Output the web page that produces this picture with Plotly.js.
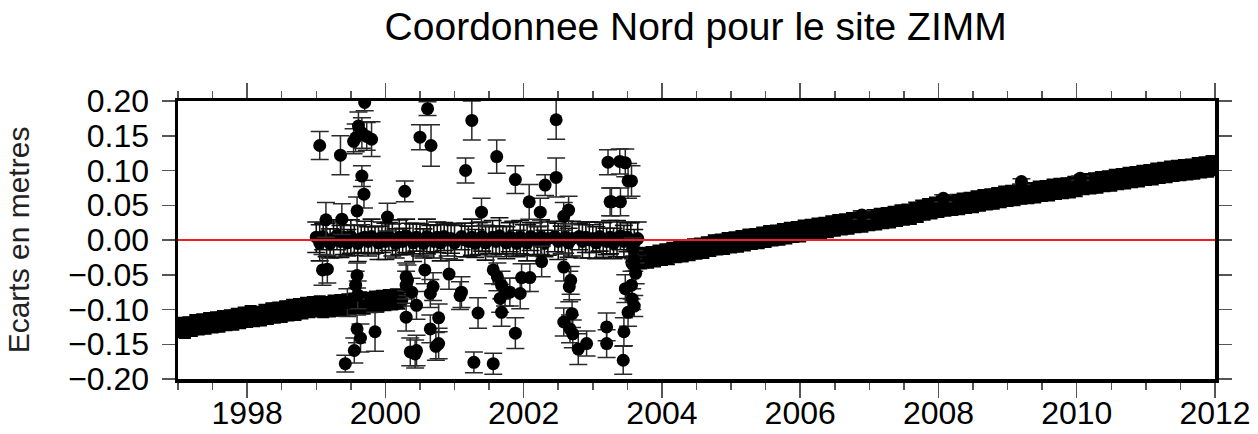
<!DOCTYPE html>
<html>
<head>
<meta charset="utf-8">
<script src="https://cdn.plot.ly/plotly-3.0.1.min.js"></script>
<style>html,body{margin:0;padding:0;background:#fff;}#chart{width:1258px;height:434px;}</style>
</head>
<body>
<div id="chart"></div>
<script>
// ---- Data ----
const titleText = "Coordonnee Nord pour le site ZIMM";
const yTitle = "Ecarts en metres";

// Continuous series before the gap (1997 - 2000.2)
const leftX = [
  1997.00,1997.05,1997.10,1997.15,1997.20,1997.25,1997.30,1997.35,1997.40,1997.45,1997.50,1997.55,1997.60,1997.65,1997.70,1997.75,1997.80,1997.85,1997.90,1997.95,
  1998.00,1998.05,1998.10,1998.15,1998.20,1998.25,1998.30,1998.35,1998.40,1998.45,1998.50,1998.55,1998.60,1998.65,1998.70,1998.75,1998.80,1998.85,1998.90,1998.95,
  1999.00,1999.05,1999.10,1999.15,1999.20,1999.25,1999.30,1999.35,1999.40,1999.45,1999.50,1999.55,1999.60,1999.65,1999.70,1999.75,1999.80,1999.85,1999.90,1999.95,
  2000.00,2000.05,2000.10,2000.15,2000.20];
const leftY = [
  -0.128,-0.124,-0.129,-0.123,-0.126,-0.120,-0.124,-0.119,-0.123,-0.117,-0.121,-0.116,-0.120,-0.114,-0.118,-0.113,-0.117,-0.111,-0.115,-0.109,
  -0.113,-0.107,-0.112,-0.108,-0.111,-0.105,-0.109,-0.103,-0.107,-0.102,-0.106,-0.100,-0.104,-0.098,-0.103,-0.097,-0.101,-0.095,-0.099,-0.094,
  -0.098,-0.093,-0.099,-0.094,-0.098,-0.092,-0.097,-0.091,-0.096,-0.090,-0.095,-0.089,-0.093,-0.087,-0.094,-0.088,-0.092,-0.086,-0.091,-0.085,
  -0.089,-0.084,-0.088,-0.083,-0.087];

// Continuous series after the gap (2003.6 - 2012)
const rightX = [
  2003.60,2003.65,2003.70,2003.75,2003.80,2003.85,2003.90,2003.95,
  2004.00,2004.05,2004.10,2004.15,2004.20,2004.25,2004.30,2004.35,2004.40,2004.45,2004.50,2004.55,2004.60,2004.65,2004.70,2004.75,2004.80,2004.85,2004.90,2004.95,
  2005.00,2005.05,2005.10,2005.15,2005.20,2005.25,2005.30,2005.35,2005.40,2005.45,2005.50,2005.55,2005.60,2005.65,2005.70,2005.75,2005.80,2005.85,2005.90,2005.95,
  2006.00,2006.05,2006.10,2006.15,2006.20,2006.25,2006.30,2006.35,2006.40,2006.45,2006.50,2006.55,2006.60,2006.65,2006.70,2006.75,2006.80,2006.85,2006.90,2006.95,
  2007.00,2007.05,2007.10,2007.15,2007.20,2007.25,2007.30,2007.35,2007.40,2007.45,2007.50,2007.55,2007.60,2007.65,2007.70,2007.75,2007.80,2007.85,2007.90,2007.95,
  2008.00,2008.05,2008.10,2008.15,2008.20,2008.25,2008.30,2008.35,2008.40,2008.45,2008.50,2008.55,2008.60,2008.65,2008.70,2008.75,2008.80,2008.85,2008.90,2008.95,
  2009.00,2009.05,2009.10,2009.15,2009.20,2009.25,2009.30,2009.35,2009.40,2009.45,2009.50,2009.55,2009.60,2009.65,2009.70,2009.75,2009.80,2009.85,2009.90,2009.95,
  2010.00,2010.05,2010.10,2010.15,2010.20,2010.25,2010.30,2010.35,2010.40,2010.45,2010.50,2010.55,2010.60,2010.65,2010.70,2010.75,2010.80,2010.85,2010.90,2010.95,
  2011.00,2011.05,2011.10,2011.15,2011.20,2011.25,2011.30,2011.35,2011.40,2011.45,2011.50,2011.55,2011.60,2011.65,2011.70,2011.75,2011.80,2011.85,2011.90,2011.95,
  2012.00];
const rightY = [
  -0.032,-0.025,-0.029,-0.023,-0.028,-0.022,-0.026,-0.020,
  -0.024,-0.018,-0.023,-0.016,-0.020,-0.015,-0.019,-0.013,-0.017,-0.011,-0.015,-0.010,-0.014,-0.008,-0.011,-0.005,-0.009,-0.004,-0.008,-0.002,
  -0.006,-0.001,-0.005,0.001,-0.003,0.003,-0.001,0.004,0.000,0.006,0.002,0.008,0.004,0.009,0.005,0.011,0.007,0.013,0.009,0.014,
  0.010,0.016,0.012,0.017,0.013,0.019,0.015,0.020,0.016,0.022,0.018,0.024,0.020,0.025,0.021,0.027,0.023,0.028,0.024,0.030,
  0.026,0.031,0.027,0.033,0.029,0.034,0.030,0.036,0.032,0.038,0.034,0.039,0.035,0.042,0.038,0.045,0.041,0.047,0.043,0.049,
  0.045,0.051,0.047,0.052,0.048,0.053,0.049,0.055,0.051,0.056,0.052,0.058,0.054,0.060,0.056,0.061,0.057,0.063,0.059,0.065,
  0.061,0.066,0.062,0.068,0.064,0.069,0.065,0.070,0.066,0.072,0.068,0.073,0.069,0.075,0.071,0.076,0.072,0.077,0.073,0.079,
  0.075,0.081,0.078,0.083,0.079,0.084,0.080,0.086,0.082,0.087,0.083,0.089,0.085,0.090,0.086,0.092,0.088,0.093,0.089,0.095,
  0.091,0.096,0.092,0.098,0.094,0.099,0.095,0.101,0.097,0.102,0.098,0.103,0.099,0.104,0.100,0.106,0.102,0.107,0.103,0.109,
  0.105];
const bandErr = 0.012;

// Row of solutions close to zero (1999 - 2003.65)
const zeroX = [
  1999.00,1999.05,1999.10,1999.15,1999.20,1999.25,1999.30,1999.35,1999.40,1999.45,1999.50,1999.55,1999.60,1999.65,1999.70,1999.75,1999.80,1999.85,1999.90,1999.95,
  2000.00,2000.05,2000.10,2000.15,2000.20,2000.25,2000.30,2000.35,2000.40,2000.45,2000.50,2000.55,2000.60,2000.65,2000.70,2000.75,2000.80,2000.85,2000.90,2000.95,
  2001.00,2001.10,2001.15,2001.20,2001.25,2001.30,2001.35,2001.40,2001.45,2001.50,2001.55,2001.60,2001.65,2001.70,2001.75,2001.80,2001.85,2001.90,2001.95,
  2002.00,2002.05,2002.10,2002.15,2002.20,2002.25,2002.30,2002.35,2002.45,2002.50,2002.55,2002.60,2002.65,2002.70,2002.80,2002.85,2002.90,2002.95,
  2003.00,2003.05,2003.10,2003.15,2003.20,2003.25,2003.30,2003.35,2003.40,2003.45,2003.50,2003.55,2003.60,2003.65];
const zeroY = [
  0.004,-0.004,0.005,0.000,-0.005,0.002,0.006,-0.002,0.004,-0.004,0.005,0.000,-0.005,0.002,0.004,-0.002,0.005,0.000,-0.004,0.004,
  -0.002,0.005,0.000,-0.005,0.004,-0.002,0.006,0.002,-0.004,0.004,0.000,-0.005,0.005,0.002,-0.002,0.004,-0.004,0.005,0.000,0.002,
  -0.004,0.005,0.000,-0.002,0.004,-0.005,0.002,0.005,-0.004,0.000,0.004,-0.002,0.006,0.000,-0.004,0.004,0.002,-0.005,0.004,
  0.000,-0.004,0.005,0.002,-0.002,0.004,-0.005,0.002,0.005,-0.002,0.000,0.004,-0.004,0.002,0.005,-0.002,0.004,0.000,
  0.002,-0.004,0.005,0.000,-0.002,0.004,-0.005,0.002,0.006,-0.002,0.004,0.000,-0.004,0.002];
const zeroErr = [
  0.022,0.026,0.019,0.024,0.021,0.027,0.020,0.023,0.025,0.019,0.024,0.022,0.026,0.020,0.023,0.021,0.025,0.019,0.024,0.022,
  0.026,0.020,0.023,0.021,0.025,0.019,0.024,0.022,0.027,0.020,0.023,0.021,0.025,0.019,0.024,0.022,0.026,0.020,0.023,0.021,
  0.025,0.019,0.024,0.022,0.026,0.020,0.023,0.021,0.025,0.019,0.024,0.022,0.026,0.020,0.023,0.021,0.025,0.019,0.024,
  0.022,0.026,0.020,0.023,0.021,0.025,0.019,0.024,0.022,0.026,0.020,0.023,0.021,0.025,0.019,0.024,0.022,0.026,
  0.020,0.023,0.021,0.025,0.019,0.024,0.022,0.026,0.020,0.023,0.021,0.025,0.019,0.024];

// Scattered outlying solutions
const outX = [1999.05,1999.35,1999.70,1999.61,1999.54,1999.57,1999.66,1999.73,1999.80,1999.66,1999.69,1999.59,1999.14,1999.37,2000.03,2000.28,
  1999.09,1999.16,1999.59,1999.57,1999.60,1999.59,1999.64,1999.85,1999.55,1999.42,1999.45,
  2000.30,2000.30,2000.30,2000.36,2000.61,2000.50,2000.66,2001.25,2001.61,2001.16,2001.88,2001.39,
  2000.57,2000.92,2000.32,2000.38,2000.45,2000.69,2000.65,2001.10,2001.08,2001.34,
  2001.56,2001.62,2001.68,2001.66,2001.68,2001.73,2000.77,2000.65,2000.77,2000.73,2000.45,2000.43,2001.28,2001.56,2001.88,
  2002.47,2002.47,2002.31,2002.08,2002.24,2002.65,2002.58,2003.22,2003.25,2003.39,
  2002.26,2001.97,2002.09,2001.80,2001.95,2002.58,2002.68,2002.66,2002.70,2002.58,2002.67,2002.71,2002.79,2002.91,2003.20,2003.20,
  2003.47,2003.51,2003.56,2003.27,2003.40,2003.47,2003.56,2003.51,2003.45,2003.44,
  2003.58,2003.60,2003.62,2003.57,2003.60,
  2006.89,2008.07,2009.20,2010.05];
const outY = [0.136,0.122,0.198,0.164,0.142,0.147,0.154,0.149,0.145,0.092,0.066,0.042,0.029,0.030,0.033,0.070,
  -0.043,-0.042,-0.051,-0.065,-0.079,-0.128,-0.141,-0.132,-0.159,-0.178,-0.090,
  -0.053,-0.065,-0.111,-0.161,0.189,0.148,0.136,0.172,0.120,0.100,0.087,0.040,
  -0.043,-0.049,-0.058,-0.075,-0.094,-0.067,-0.077,-0.075,-0.080,-0.105,
  -0.043,-0.053,-0.065,-0.084,-0.104,-0.075,-0.112,-0.128,-0.149,-0.153,-0.159,-0.164,-0.176,-0.178,-0.134,
  0.173,0.090,0.079,0.055,0.040,0.043,0.034,0.112,0.055,0.113,
  -0.031,-0.054,-0.054,-0.075,-0.077,-0.039,-0.058,-0.067,-0.106,-0.118,-0.128,-0.135,-0.157,-0.149,-0.125,-0.149,
  0.111,0.085,0.085,0.055,0.055,-0.070,-0.065,-0.104,-0.132,-0.173,
  -0.012,-0.030,-0.048,-0.085,-0.095,
  0.036,0.060,0.084,0.089];
const outErr = [0.020,0.028,0.012,0.020,0.018,0.020,0.022,0.020,0.025,0.015,0.020,0.020,0.025,0.022,0.020,0.015,
  0.022,0.020,0.018,0.020,0.020,0.020,0.020,0.028,0.018,0.012,0.020,
  0.020,0.020,0.020,0.020,0.010,0.018,0.030,0.028,0.024,0.018,0.020,0.020,
  0.020,0.022,0.022,0.020,0.020,0.020,0.020,0.022,0.020,0.022,
  0.020,0.020,0.020,0.020,0.020,0.020,0.020,0.020,0.022,0.020,0.022,0.020,0.015,0.015,0.022,
  0.028,0.028,0.015,0.025,0.020,0.020,0.020,0.018,0.020,0.018,
  0.022,0.020,0.020,0.020,0.022,0.020,0.020,0.022,0.020,0.020,0.020,0.020,0.022,0.018,0.020,0.020,
  0.020,0.025,0.022,0.020,0.020,0.020,0.020,0.020,0.020,0.020,
  0.015,0.015,0.015,0.015,0.015,
  0.006,0.005,0.004,0.003];

// ---- Styling ----
function pts(x, y, err, opts) {
  const base = {color: opts.errColor, thickness: opts.errThick, width: opts.capW, visible: true};
  const e = Array.isArray(err)
    ? Object.assign({type: 'data', array: err}, base)
    : Object.assign({type: 'constant', value: err}, base);
  return {x: x, y: y, mode: 'markers', type: 'scatter',
          marker: {color: '#000', size: opts.size, line: {width: 0}},
          error_y: e, showlegend: false, hoverinfo: 'x+y'};
}

const data = [
  pts(leftX, leftY, bandErr, {size: 18, errColor: '#000', errThick: 2, capW: 6}),
  pts(rightX, rightY, bandErr, {size: 18, errColor: '#000', errThick: 2, capW: 6}),
  pts(zeroX, zeroY, zeroErr, {size: 13, errColor: '#111', errThick: 1.6, capW: 9}),
  pts(outX, outY, outErr, {size: 13, errColor: '#2a2a2a', errThick: 1.5, capW: 9})
];

const FONT = 'Liberation Sans, Arial, sans-serif';
const tickFont = {family: FONT, size: 32, color: '#000'};

const layout = {
  width: 1258, height: 434,
  margin: {l: 178, r: 43, t: 101, b: 55, pad: 0},
  paper_bgcolor: '#fff', plot_bgcolor: '#fff',
  title: {text: titleText, x: 0.553, xanchor: 'center', y: 0.94, yanchor: 'middle',
          font: {family: FONT, size: 39, color: '#000'}},
  xaxis: {
    range: [1997, 2012], showgrid: false, zeroline: false,
    showline: true, linecolor: '#000', linewidth: 3.5, mirror: 'allticks',
    ticks: 'outside', ticklen: 15, tickwidth: 1.5, tickcolor: '#555',
    dtick: 2, tick0: 1998, tickfont: tickFont, ticklabelstandoff: -12,
    minor: {ticks: 'outside', dtick: 0.5, tick0: 1997, ticklen: 7, tickwidth: 1.5, tickcolor: '#555', showgrid: false}
  },
  yaxis: {
    range: [-0.2, 0.2], showgrid: false, zeroline: false,
    showline: true, linecolor: '#000', linewidth: 3.5, mirror: 'allticks',
    ticks: 'outside', ticklen: 13, tickwidth: 1.5, tickcolor: '#555',
    dtick: 0.05, tick0: 0, tickformat: '.2f', tickfont: tickFont, ticklabelstandoff: 6,
    title: {text: yTitle, standoff: 30, font: {family: FONT, size: 30, color: '#222'}}
  },
  shapes: [{type: 'line', xref: 'paper', x0: 0, x1: 1, yref: 'y', y0: 0, y1: 0,
            line: {color: 'rgb(235,30,35)', width: 2}, layer: 'above'}]
};

Plotly.newPlot('chart', data, layout, {staticPlot: true, displayModeBar: false});
</script>
</body>
</html>
